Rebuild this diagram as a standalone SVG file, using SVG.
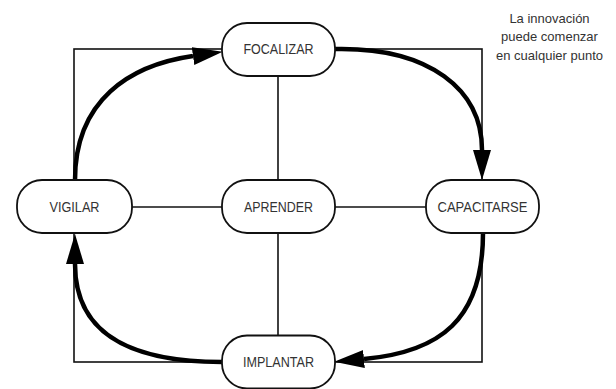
<svg xmlns="http://www.w3.org/2000/svg" width="616" height="389" viewBox="0 0 616 389">
<style>
.node rect{fill:#fff;stroke:#111;stroke-width:1.8}
.node text{font-family:"Liberation Sans",Arial,sans-serif;font-size:14px;fill:#333;text-anchor:middle}
.thin{fill:none;stroke:#111;stroke-width:1.6}
.thick{fill:none;stroke:#000;stroke-width:4.5}
.note{font-family:"Liberation Sans",Arial,sans-serif;font-size:13px;fill:#333;text-anchor:middle}
</style>
<defs>
<marker id="ah" viewBox="0 0 30 18" refX="0" refY="9" markerWidth="30" markerHeight="18" markerUnits="userSpaceOnUse" orient="auto">
<path d="M0,0 L30,9 L0,18 z" fill="#000"/>
</marker>
</defs>
<rect width="616" height="389" fill="#fff"/>
<g id="connectors">
<rect class="thin" x="74" y="49" width="408" height="313"/>
<line class="thin" x1="278" y1="49" x2="278" y2="362"/>
<line class="thin" x1="74" y1="207" x2="482" y2="207"/>
<path class="thick" d="M75,180 C75,100 130,65 193,56" marker-end="url(#ah)"/>
<path class="thick" d="M335,49 C430,47 482,90 482,150" marker-end="url(#ah)"/>
<path class="thick" d="M483,233 C483,320 440,352 364,359" marker-end="url(#ah)"/>
<path class="thick" d="M222,362 C140,362 75,340 75,264" marker-end="url(#ah)"/>
</g>
<g id="focalizar" class="node"><rect x="222" y="23" width="113" height="53" rx="25"/><text x="278.5" y="54.3" textLength="70" lengthAdjust="spacingAndGlyphs">FOCALIZAR</text></g>
<g id="vigilar" class="node"><rect x="17" y="180" width="115" height="53" rx="25"/><text x="74.5" y="211.5" textLength="50" lengthAdjust="spacingAndGlyphs">VIGILAR</text></g>
<g id="aprender" class="node"><rect x="222" y="180" width="113" height="53" rx="25"/><text x="278.5" y="211.5" textLength="69" lengthAdjust="spacingAndGlyphs">APRENDER</text></g>
<g id="capacitarse" class="node"><rect x="426" y="180" width="113" height="53" rx="25"/><text x="482.5" y="211.5" textLength="90" lengthAdjust="spacingAndGlyphs">CAPACITARSE</text></g>
<g id="implantar" class="node"><rect x="222" y="335.5" width="113" height="53" rx="25"/><text x="278.5" y="367" textLength="71" lengthAdjust="spacingAndGlyphs">IMPLANTAR</text></g>
<g id="note">
<text class="note" x="549.5" y="22.5">La innovación</text>
<text class="note" x="549.5" y="41">puede comenzar</text>
<text class="note" x="549.5" y="59.5">en cualquier punto</text>
</g>
</svg>
